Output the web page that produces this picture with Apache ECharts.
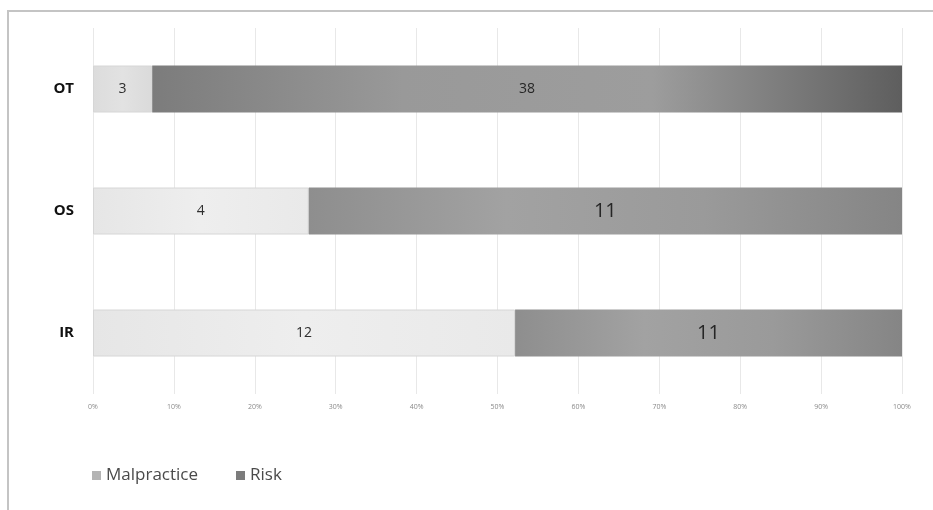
<!DOCTYPE html>
<html>
<head>
<meta charset="utf-8">
<script src="https://cdn.jsdelivr.net/npm/echarts@6/dist/echarts.min.js"></script>
<style>
  html, body { margin: 0; padding: 0; background: #fff; }
  #chart { width: 933px; height: 510px; }
</style>
</head>
<body>
<div id="chart"></div>
<script>
const categories = ['OT', 'OS', 'IR'];
const malpractice = [3, 4, 12];
const risk = [38, 11, 11];
const xTicks = ['0%', '10%', '20%', '30%', '40%', '50%', '60%', '70%', '80%', '90%', '100%'];

const FONT = '"Open Sans", "Liberation Sans", sans-serif';

// share of each row, so the bars stack to 100%
const totals = categories.map((c, i) => malpractice[i] + risk[i]);
const pct = (arr) => arr.map((v, i) => (v / totals[i]) * 100);

function grad(stops) {
  return new echarts.graphic.LinearGradient(0, 0, 1, 0, stops.map((c, i) => ({
    offset: i / (stops.length - 1), color: c
  })));
}

const chart = echarts.init(document.getElementById('chart'), null, { renderer: 'canvas' });

const option = {
  backgroundColor: '#ffffff',
  animation: false,
  graphic: [
    {
      type: 'polyline',
      shape: { points: [[8, 510], [8, 11], [933, 11]] },
      style: { stroke: '#c4c4c4', lineWidth: 2, fill: null }
    }
  ],
  legend: {
    left: 87,
    top: 462,
    itemWidth: 9,
    itemHeight: 9,
    itemGap: 38,
    icon: 'rect',
    textStyle: { fontFamily: FONT, fontSize: 17, color: '#4a4a4a' },
    data: [
      { name: 'Malpractice', itemStyle: { color: '#b4b4b4', borderWidth: 0 } },
      { name: 'Risk', itemStyle: { color: '#7c7c7c', borderWidth: 0 } }
    ]
  },
  grid: { left: 93, right: 31, top: 28, bottom: 116 },
  xAxis: {
    type: 'value',
    min: 0,
    max: 100,
    interval: 10,
    axisLine: { show: false },
    axisTick: { show: false },
    splitLine: { lineStyle: { color: '#e8e8e8', width: 1 } },
    axisLabel: {
      fontFamily: FONT,
      fontSize: 7,
      color: '#8a8a8a',
      margin: 9,
      formatter: (v) => xTicks[Math.round(v / 10)]
    }
  },
  yAxis: {
    type: 'category',
    inverse: true,
    data: categories,
    axisLine: { show: false },
    axisTick: { show: false },
    axisLabel: {
      fontFamily: FONT,
      fontSize: 15,
      fontWeight: 'bold',
      color: '#111',
      margin: 19
    }
  },
  series: [
    {
      name: 'Malpractice',
      type: 'bar',
      stack: 'total',
      barWidth: 47,
      itemStyle: {
        color: grad(['#e6e6e6', '#eeeeee', '#e9e9e9']),
        borderColor: '#d6d6d6',
        borderWidth: 1
      },
      label: {
        show: true,
        position: 'inside',
        fontFamily: FONT,
        fontSize: 14,
        color: '#2e2e2e',
        formatter: (p) => malpractice[p.dataIndex]
      },
      data: pct(malpractice).map((v, i) => ({
        value: v,
        itemStyle: i === 0 ? { color: grad(['#dcdcdc', '#e2e2e2', '#dadada']) } : undefined
      }))
    },
    {
      name: 'Risk',
      type: 'bar',
      stack: 'total',
      barWidth: 47,
      itemStyle: {
        color: grad(['#8e8e8e', '#a2a2a2', '#9a9a9a', '#858585']),
        borderWidth: 0
      },
      label: {
        show: true,
        position: 'inside',
        fontFamily: FONT,
        color: '#262626',
        formatter: (p) => risk[p.dataIndex]
      },
      data: pct(risk).map((v, i) => ({
        value: v,
        itemStyle: i === 0 ? { color: grad(['#7c7c7c', '#999999', '#9d9d9d', '#5e5e5e']) } : undefined,
        label: { fontSize: i === 0 ? 14 : 20 }
      }))
    }
  ]
};

chart.setOption(option);
</script>
</body>
</html>
